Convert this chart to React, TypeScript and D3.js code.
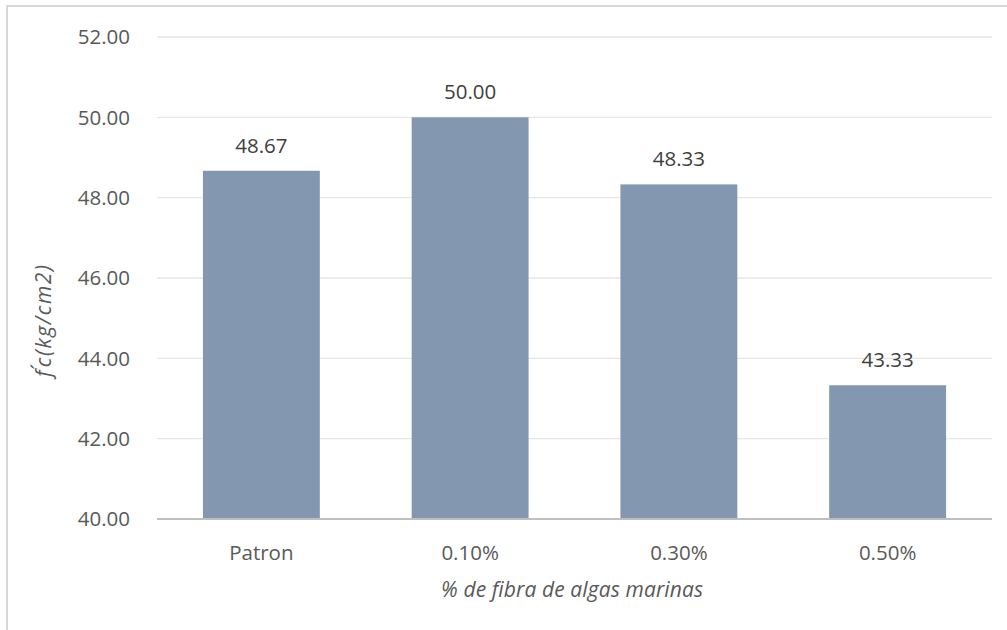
import React from "react";
import * as d3 from "d3";

const categories = ["Patron", "0.10%", "0.30%", "0.50%"];
const values = [48.67, 50.0, 48.33, 43.33];
const yTicks = [40, 42, 44, 46, 48, 50, 52];
const xTitle = "% de fibra de algas marinas";
const yTitle = "f´c(kg/cm2)";

const W = 1007;
const H = 630;
const plot = { left: 157, right: 992, top: 37, bottom: 519 };
const FONT = "'Open Sans', sans-serif";
const FS = 20.5;
const TFS = 21;

export default function App() {
  const x = d3
    .scaleBand<string>()
    .domain(categories)
    .range([plot.left, plot.right])
    .paddingInner(0.44)
    .paddingOuter(0.22);
  const y = d3.scaleLinear().domain([40, 52]).range([plot.bottom, plot.top]);

  return (
    <svg
      width={W}
      height={H}
      style={{ position: "absolute", left: 0, top: 0, background: "#fff" }}
    >
      <rect x={7} y={6} width={W} height={H} fill="#fff" stroke="#d9d9d9" strokeWidth={2} />
      {yTicks.map((t) => (
        <g key={t}>
          {t !== 40 && (
            <line
              x1={plot.left}
              x2={plot.right}
              y1={y(t)}
              y2={y(t)}
              stroke="#e6e6e6"
              strokeWidth={1.3}
            />
          )}
          <text
            x={130}
            y={y(t)}
            dy="0.35em"
            textAnchor="end"
            fontFamily={FONT}
            fontSize={FS}
            fill="#595959"
          >
            {t.toFixed(2)}
          </text>
        </g>
      ))}
      {categories.map((c, i) => (
        <g key={c}>
          <rect
            x={x(c)}
            y={y(values[i])}
            width={x.bandwidth()}
            height={plot.bottom - y(values[i])}
            fill="#8497b0"
          />
          <text
            x={(x(c) as number) + x.bandwidth() / 2}
            y={y(values[i]) - 18}
            textAnchor="middle"
            fontFamily={FONT}
            fontSize={FS}
            fill="#404040"
          >
            {values[i].toFixed(2)}
          </text>
          <text
            x={(x(c) as number) + x.bandwidth() / 2}
            y={560}
            textAnchor="middle"
            fontFamily={FONT}
            fontSize={FS}
            fill="#595959"
          >
            {c}
          </text>
        </g>
      ))}
      <line
        x1={plot.left}
        x2={plot.right}
        y1={plot.bottom}
        y2={plot.bottom}
        stroke="#bfbfbf"
        strokeWidth={2}
      />
      <text
        x={572}
        y={597}
        textAnchor="middle"
        fontFamily={FONT}
        fontStyle="italic"
        fontSize={TFS}
        fill="#595959"
        textLength={262}
        lengthAdjust="spacing"
      >
        {xTitle}
      </text>
      <text
        transform="translate(44, 321) rotate(-90)"
        dy="0.35em"
        textAnchor="middle"
        fontFamily={FONT}
        fontStyle="italic"
        fontSize={TFS}
        fill="#595959"
        textLength={112}
        lengthAdjust="spacing"
      >
        {yTitle}
      </text>
    </svg>
  );
}
